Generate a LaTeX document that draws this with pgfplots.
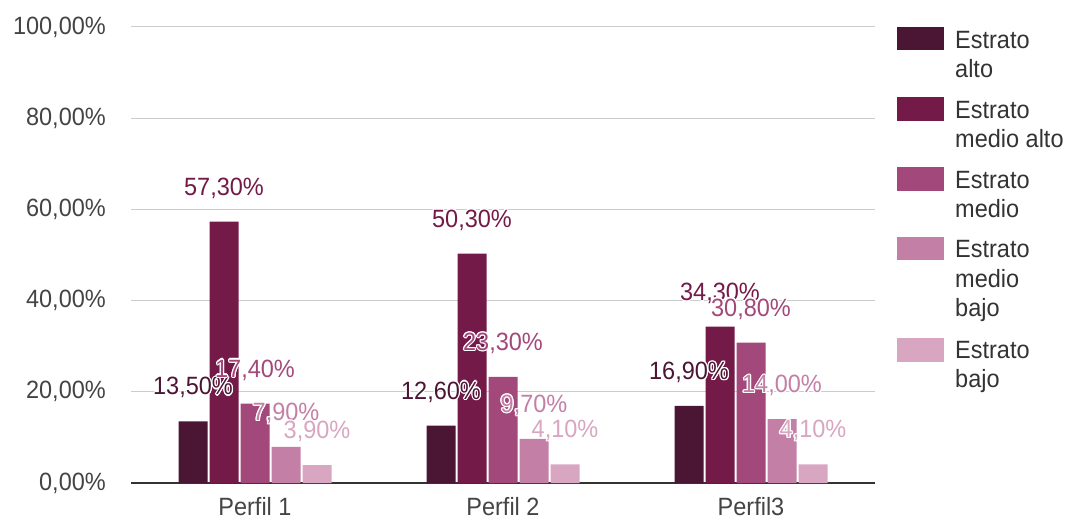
\documentclass[border=0pt]{standalone}
\usepackage{pgfplots}
\pgfplotsset{compat=1.18}
\usepackage{pgfplotstable}
\usepackage{fontspec}
\setmainfont{Liberation Sans}[FakeStretch=0.94]
\usepackage[copies]{contour}
\contourlength{1.2pt}
\contournumber{12}
\definecolor{c1}{HTML}{4B1634}
\definecolor{c2}{HTML}{741A48}
\definecolor{c3}{HTML}{A3487A}
\definecolor{c4}{HTML}{C47FA6}
\definecolor{c5}{HTML}{D8A6C0}
\definecolor{ticktext}{HTML}{444444}
\definecolor{legtext}{HTML}{333333}
\newcommand\chartfont{\fontsize{25bp}{30bp}\selectfont}
\pgfplotsset{/pgf/number format/assume math mode=true}
\pgfplotstableread{
x a b c d e
0 13.5 57.3 17.4 7.9 3.9
1 12.6 50.3 23.3 9.7 4.1
2 16.9 34.3 30.8 14.0 4.1
}\data
\begin{document}
\begin{tikzpicture}
\begin{axis}[
  at={(131bp,36bp)}, anchor=south west,
  scale only axis, width=744bp, height=456bp,
  xmin=-0.5, xmax=2.5, ymin=0, ymax=100,
  ybar=2bp, bar width=29bp,
  clip=false,
  axis line style={draw=none},
  xtick={0,1,2}, xticklabels={Perfil 1, Perfil 2, Perfil3},
  ytick={0,20,...,100},
  yticklabel={\pgfmathprintnumber[fixed,fixed zerofill,precision=2,use comma]{\tick}\%},
  major tick length=0pt,
  xtick style={draw=none}, ytick style={draw=none},
  ymajorgrids, grid style={color=black!20, line width=1bp},
  extra y ticks={0}, extra y tick labels={},
  extra y tick style={grid style={color=black!80, line width=1.4bp}},
  tick label style={font=\chartfont, text=ticktext, inner sep=0pt},
  yticklabel style={anchor=east, xshift=-25bp},
  xticklabel style={anchor=base, yshift=-32.5bp},
  nodes near coords={\contour{white}{\pgfmathprintnumber[fixed,fixed zerofill,precision=2,use comma]{\pgfplotspointmeta}\%}},
  every node near coord/.append style={font=\chartfont, anchor=base, yshift=26.5bp, inner sep=0pt},
]
\addplot[fill=c1, draw=none, every node near coord/.append style={text=c1}] table[x=x,y=a]{\data};
\addplot[fill=c2, draw=none, every node near coord/.append style={text=c2}] table[x=x,y=b]{\data};
\addplot[fill=c3, draw=none, every node near coord/.append style={text=c3}] table[x=x,y=c]{\data};
\addplot[fill=c4, draw=none, every node near coord/.append style={text=c4}] table[x=x,y=d]{\data};
\addplot[fill=c5, draw=none, every node near coord/.append style={text=c5}] table[x=x,y=e]{\data};
\end{axis}
% legend
\begin{scope}[every node/.style={anchor=base west, inner sep=0pt, font=\chartfont, text=legtext}]
\fill[c1] (897bp,492bp) rectangle (944bp,468.5bp);
\node at (955bp,470.7bp) {Estrato};
\node at (955bp,441.2bp) {alto};
\fill[c2] (897bp,422bp) rectangle (944bp,398bp);
\node at (955bp,400.5bp) {Estrato};
\node at (955bp,371bp) {medio alto};
\fill[c3] (897bp,352bp) rectangle (944bp,328bp);
\node at (955bp,330.5bp) {Estrato};
\node at (955bp,301bp) {medio};
\fill[c4] (897bp,282bp) rectangle (944bp,258.5bp);
\node at (955bp,261bp) {Estrato};
\node at (955bp,231.5bp) {medio};
\node at (955bp,202bp) {bajo};
\fill[c5] (897bp,181bp) rectangle (944bp,157.3bp);
\node at (955bp,160.5bp) {Estrato};
\node at (955bp,131bp) {bajo};
\end{scope}
\pgfresetboundingbox
\path[use as bounding box] (0,0) rectangle (1071bp,519bp);
\end{tikzpicture}
\end{document}
